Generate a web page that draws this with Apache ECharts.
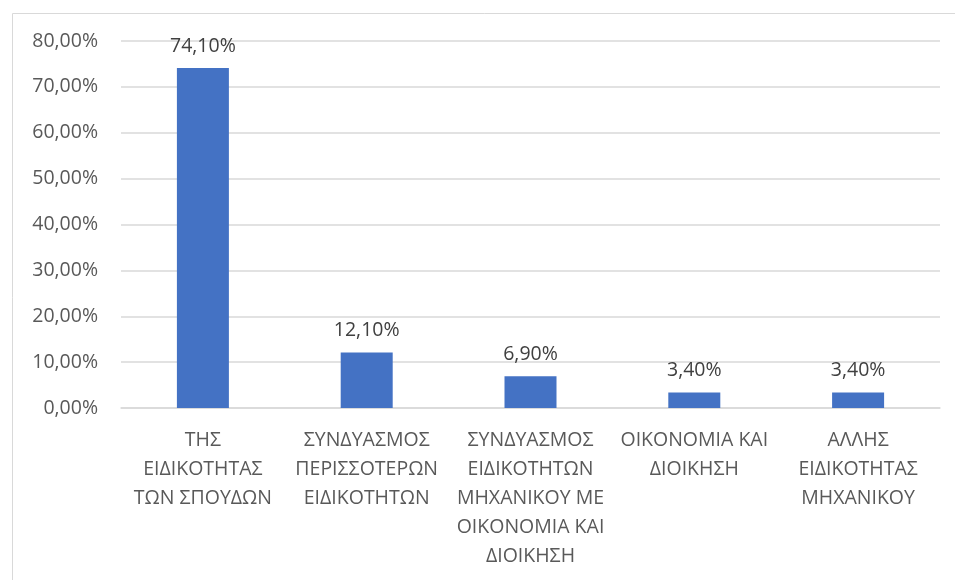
<!DOCTYPE html>
<html>
<head>
<meta charset="utf-8">
<script src="https://cdn.jsdelivr.net/npm/echarts@6/dist/echarts.min.js"></script>
<style>
  html, body { margin: 0; padding: 0; background: #fff; }
  #chart { width: 955px; height: 580px; }
</style>
</head>
<body>
<div id="chart"></div>
<script>
// categories (pre-wrapped like the original)
var categories = [
    'ΤΗΣ\nΕΙΔΙΚΟΤΗΤΑΣ\nΤΩΝ ΣΠΟΥΔΩΝ',
    'ΣΥΝΔΥΑΣΜΟΣ\nΠΕΡΙΣΣΟΤΕΡΩΝ\nΕΙΔΙΚΟΤΗΤΩΝ',
    'ΣΥΝΔΥΑΣΜΟΣ\nΕΙΔΙΚΟΤΗΤΩΝ\nΜΗΧΑΝΙΚΟΥ ΜΕ\nΟΙΚΟΝΟΜΙΑ ΚΑΙ\nΔΙΟΙΚΗΣΗ',
    'ΟΙΚΟΝΟΜΙΑ ΚΑΙ\nΔΙΟΙΚΗΣΗ',
    'ΑΛΛΗΣ\nΕΙΔΙΚΟΤΗΤΑΣ\nΜΗΧΑΝΙΚΟΥ'
];
var values = [74.1, 12.1, 6.9, 3.4, 3.4];

var font = '"Open Sans", "Noto Sans", sans-serif';
var textColor = '#595959';

function pct(v) {
    return v.toFixed(2).replace('.', ',') + '%';
}

var chart = echarts.init(document.getElementById('chart'));

chart.setOption({
    animation: false,
    textStyle: { fontFamily: font },
    graphic: [{
        type: 'rect',
        left: 10, top: 11,
        shape: { width: 960, height: 600 },
        style: { fill: 'none', stroke: '#d9d9d9', lineWidth: 1 },
        silent: true
    }],
    grid: { left: 121, right: 15, top: 41, bottom: 172, containLabel: false },
    xAxis: {
        type: 'category',
        data: categories,
        axisLine: { lineStyle: { color: '#d9d9d9', width: 1.5 } },
        axisTick: { show: false },
        axisLabel: {
            interval: 0,
            color: textColor,
            fontSize: 19.5,
            fontFamily: font,
            lineHeight: 29,
            margin: 18
        }
    },
    yAxis: {
        type: 'value',
        min: 0,
        max: 80,
        interval: 10,
        axisLine: { show: false },
        axisTick: { show: false },
        splitLine: { lineStyle: { color: '#d9d9d9', width: 1.5 } },
        axisLabel: {
            color: textColor,
            fontSize: 19.5,
            fontFamily: font,
            margin: 23,
            formatter: function (v) { return pct(v); }
        }
    },
    series: [{
        type: 'bar',
        data: values,
        barWidth: 52,
        itemStyle: { color: '#4472C4' },
        label: {
            show: true,
            position: 'top',
            distance: 12,
            color: '#404040',
            fontSize: 19.5,
            fontFamily: font,
            formatter: function (p) { return pct(p.value); }
        }
    }]
});
</script>
</body>
</html>
